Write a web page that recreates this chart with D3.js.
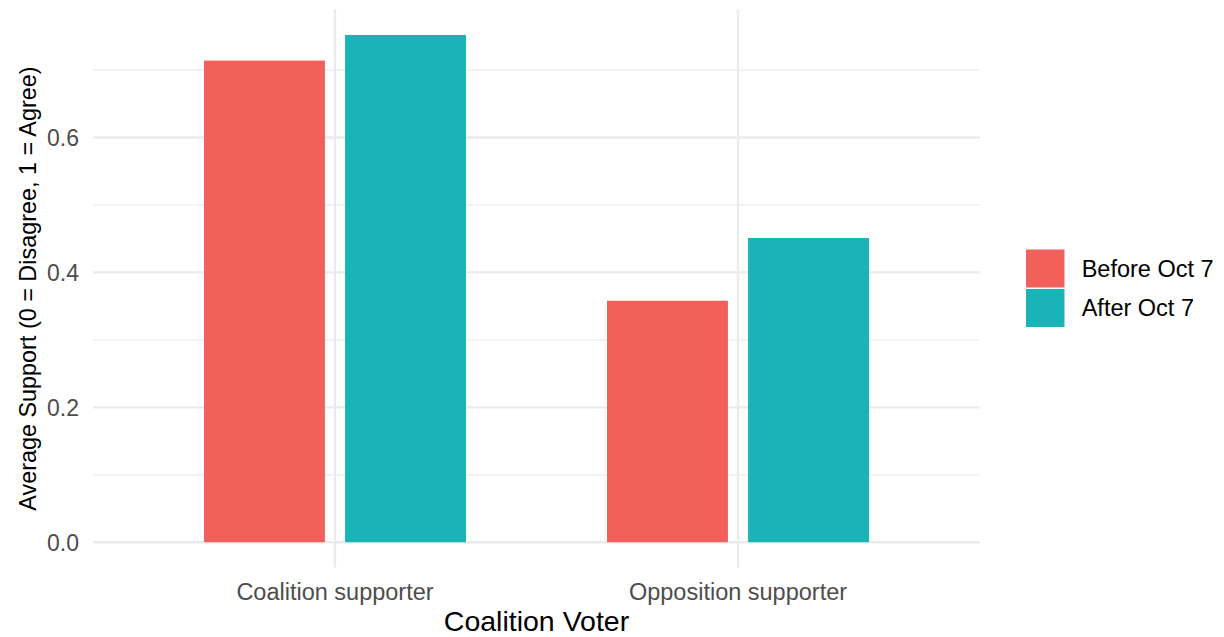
<!DOCTYPE html>
<html>
<head>
<meta charset="utf-8">
<script src="https://cdn.jsdelivr.net/npm/d3@7"></script>
<style>
  html, body { margin: 0; padding: 0; background: #ffffff; }
  svg { display: block; }
  text { font-family: "Liberation Sans", Arial, Helvetica, sans-serif; }
</style>
</head>
<body>
<svg id="chart" width="1224" height="637"></svg>
<script>
const categories = ["Coalition supporter", "Opposition supporter"];
const groups = ["Before Oct 7", "After Oct 7"];
const beforeValues = [0.714, 0.358];
const afterValues = [0.752, 0.451];
const yTicks = [0, 0.2, 0.4, 0.6];
const yMinorTicks = [0.1, 0.3, 0.5, 0.7];
const colors = ["#F2605C", "#1AB3B8"];
const xTitle = "Coalition Voter";
const yTitle = "Average Support (0 = Disagree, 1 = Agree)";

const rows = categories.map((c, i) => ({
  category: c,
  values: [
    { group: groups[0], value: beforeValues[i] },
    { group: groups[1], value: afterValues[i] }
  ]
}));

const svg = d3.select("#chart");
const panel = { left: 93.2, right: 979.8, top: 9.6, bottom: 567.6 };

const x = d3.scaleBand()
  .domain(categories)
  .range([panel.left, panel.right])
  .paddingInner(0)
  .paddingOuter(0.1);

const bw = x.bandwidth();
const x1 = d3.scaleBand()
  .domain(groups)
  .range([0.15 * bw, 0.85 * bw])
  .paddingInner(1 / 7)
  .paddingOuter(1 / 14);

const ymax = d3.max(afterValues.concat(beforeValues));
const y = d3.scaleLinear()
  .domain([-0.05 * ymax, ymax * 1.05])
  .range([panel.bottom, panel.top]);

const color = d3.scaleOrdinal().domain(groups).range(colors);

// grid
const grid = svg.append("g");
grid.selectAll("line.minor").data(yMinorTicks).join("line")
  .attr("x1", panel.left).attr("x2", panel.right)
  .attr("y1", d => y(d)).attr("y2", d => y(d))
  .attr("stroke", "#EBEBEB").attr("stroke-width", 1.2);
grid.selectAll("line.major").data(yTicks).join("line")
  .attr("x1", panel.left).attr("x2", panel.right)
  .attr("y1", d => y(d)).attr("y2", d => y(d))
  .attr("stroke", "#EBEBEB").attr("stroke-width", 2.3);
grid.selectAll("line.vmajor").data(categories).join("line")
  .attr("x1", d => x(d) + bw / 2).attr("x2", d => x(d) + bw / 2)
  .attr("y1", panel.top).attr("y2", panel.bottom)
  .attr("stroke", "#EBEBEB").attr("stroke-width", 2.3);

// bars
const gBars = svg.append("g");
gBars.selectAll("g").data(rows).join("g")
  .attr("transform", d => `translate(${x(d.category)},0)`)
  .selectAll("rect").data(d => d.values).join("rect")
  .attr("x", d => x1(d.group))
  .attr("width", x1.bandwidth())
  .attr("y", d => y(d.value))
  .attr("height", d => y(0) - y(d.value))
  .attr("fill", d => color(d.group));

// y axis
const yAxis = d3.axisLeft(y).tickValues(yTicks).tickFormat(d3.format(".1f")).tickSize(0).tickPadding(0);
const gy = svg.append("g").attr("transform", `translate(79,0)`).call(yAxis);
gy.select(".domain").remove();
gy.selectAll("text")
  .attr("fill", "#4D4D4D")
  .style("font-size", "23px")
  .attr("dy", "0.36em");

// x axis
const xAxis = d3.axisBottom(x).tickSize(0).tickPadding(0);
const gx = svg.append("g").attr("transform", `translate(0,600)`).call(xAxis);
gx.select(".domain").remove();
gx.selectAll("text")
  .attr("fill", "#4D4D4D")
  .style("font-size", "23.5px")
  .attr("y", 0)
  .attr("dy", 0);

// titles
svg.append("text")
  .attr("x", (panel.left + panel.right) / 2)
  .attr("y", 631)
  .attr("text-anchor", "middle")
  .attr("fill", "#000")
  .style("font-size", "28.5px")
  .text(xTitle);

svg.append("text")
  .attr("transform", `translate(36,${(panel.top + panel.bottom) / 2}) rotate(-90)`)
  .attr("text-anchor", "middle")
  .attr("fill", "#000")
  .style("font-size", "23.4px")
  .text(yTitle);

// legend
const legend = svg.append("g").attr("transform", "translate(1026,249)");
const items = legend.selectAll("g").data(groups).join("g")
  .attr("transform", (d, i) => `translate(0,${i * 39.5})`);
items.append("rect")
  .attr("x", 0).attr("y", 0.5)
  .attr("width", 38.5).attr("height", 38)
  .attr("fill", d => color(d));
items.append("text")
  .attr("x", 55.7).attr("y", 19.5)
  .attr("dy", "0.35em")
  .attr("fill", "#000")
  .style("font-size", "23.5px")
  .text(d => d);
</script>
</body>
</html>
